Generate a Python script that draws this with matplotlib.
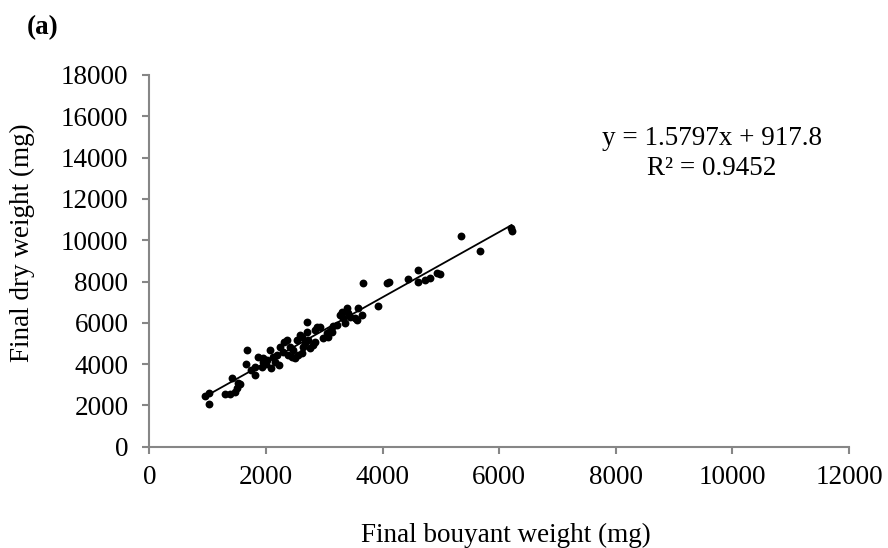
import numpy as np
import matplotlib
matplotlib.use("Agg")
from matplotlib import pyplot as plt

plt.rcParams['font.family'] = ['Liberation Serif', 'DejaVu Serif']

# buoyant weight (mg) vs dry weight (mg) for each sample
buoyant = [955, 1029, 1029, 1298, 1384, 1412, 1498, 1515, 1555, 1469,
           1669, 1658, 1812, 1812, 1858, 1927, 1955, 2012, 2069, 2081,
           2127, 2184, 2229, 2241, 2309, 2355, 2384, 2412, 2441, 2469,
           2527, 2555, 2584, 2613, 2641, 2669, 2698, 2698, 2727, 2755,
           2812, 2841, 2870, 2927, 2984, 3041, 3070, 3127, 3155, 3270,
           3298, 3327, 3355, 3384, 3412, 3441, 3527, 3555, 3584, 3641,
           3658, 3927, 4070, 4115, 4441, 4601, 4612, 4727, 4812, 4938,
           4984, 5344, 5670, 6201, 6213,
           2155, 2612, 2841, 3098, 3212, 2500, 2300, 1750, 2000, 1950]
dry = [2456, 2585, 2053, 2537, 2553, 3312, 2828, 3102, 3038, 2666,
       4684, 4006, 3473, 3877, 4361, 3877, 4280, 4200, 4684, 3796,
       4361, 4442, 3958, 4845, 5087, 5168, 4442, 4845, 4361, 4684,
       5168, 4442, 5410, 4522, 4845, 5007, 6056, 5572, 5168, 4764,
       4926, 5087, 5814, 5814, 5249, 5491, 5329, 5572, 5846, 6379,
       6540, 6217, 5975, 6701, 6459, 6298, 6217, 6136, 6701, 6379,
       7912, 6814, 7944, 7961, 8122, 8558, 7993, 8074, 8155, 8429,
       8348, 10221, 9494, 10576, 10447,
       4119, 5300, 5652, 5600, 5900, 4300, 4600, 3700, 4000, 4100]

# linear fit reported on the chart
slope = 1.5797
intercept = 917.8
r2 = 0.9452

xticks = [0, 2000, 4000, 6000, 8000, 10000, 12000]
yticks = [0, 2000, 4000, 6000, 8000, 10000, 12000, 14000, 16000, 18000]

W, H = 888, 548
fig = plt.figure(figsize=(W / 100, H / 100), dpi=100)
ax = fig.add_axes([149.3 / W, 1 - 446.7 / H, (849 - 149.3) / W, (446.7 - 75) / H])

ax.scatter(buoyant, dry, s=32, color='black', zorder=3, linewidths=0)

xfit = np.array([min(buoyant), max(buoyant)])
ax.plot(xfit, slope * xfit + intercept, color='black', lw=1.3, zorder=2)

ax.set_xlim(0, 12000)
ax.set_ylim(0, 18000)
ax.set_xticks(xticks)
ax.set_yticks(yticks)

grey = '#868686'
for side in ['top', 'right']:
    ax.spines[side].set_visible(False)
for side in ['left', 'bottom']:
    ax.spines[side].set_color(grey)
    ax.spines[side].set_linewidth(1.5)
ax.tick_params(axis='both', direction='out', length=5, width=1.5, color=grey,
               labelsize=19.5, labelcolor='black')
ax.tick_params(axis='y', pad=10)
ax.tick_params(axis='x', pad=8)

fig.text(22 / W, 1 - 243 / H, 'Final dry weight (mg)', rotation=90,
         ha='center', va='center', fontsize=19.5)
fig.text(506 / W, 1 - 535 / H, 'Final bouyant weight (mg)',
         ha='center', va='center', fontsize=19.5)
fig.text(43 / W, 1 - 28 / H, '(a)', ha='center', va='center',
         fontsize=19.5, fontweight='bold')

fig.text(712 / W, 1 - 139 / H, 'y = %.4fx + %.1f' % (slope, intercept),
         ha='center', va='center', fontsize=19.5)
fig.text(712 / W, 1 - 168 / H, 'R² = %.4f' % r2,
         ha='center', va='center', fontsize=19.5)

fig.savefig('out.png', dpi=100)
